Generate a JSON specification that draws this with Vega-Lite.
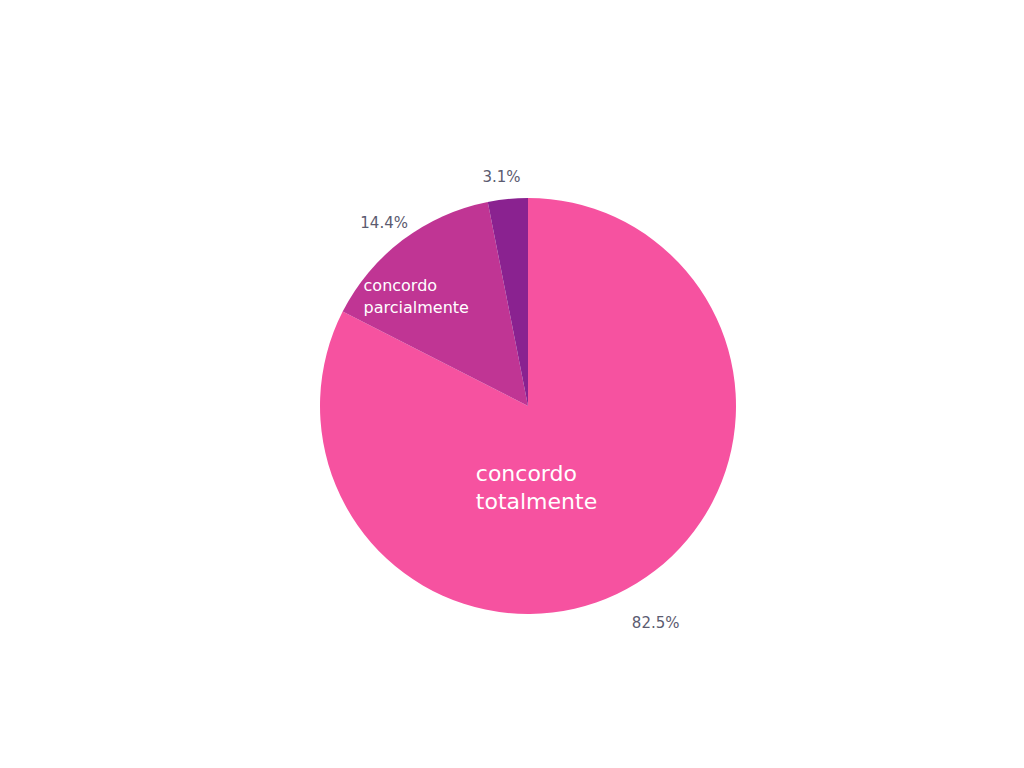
{
  "$schema": "https://vega.github.io/schema/vega-lite/v6.json",
  "width": 992,
  "height": 724,
  "autosize": {"type": "none"},
  "padding": {"left": 32, "top": 44, "right": 0, "bottom": 0},
  "background": "white",
  "config": {"view": {"stroke": null}, "font": "DejaVu Sans"},
  "data": {
    "values": [
      {"categoria": "concordo totalmente", "valor": 82.5, "pct": "82.5%", "ord": 1},
      {"categoria": "concordo parcialmente", "valor": 14.4, "pct": "14.4%", "ord": 2},
      {"categoria": "não concordo nem discordo", "valor": 3.1, "pct": "3.1%", "ord": 3}
    ]
  },
  "encoding": {
    "theta": {"field": "valor", "type": "quantitative", "stack": true},
    "order": {"field": "ord", "type": "quantitative", "sort": "ascending"}
  },
  "layer": [
    {
      "mark": {"type": "arc", "outerRadius": 208},
      "encoding": {
        "color": {
          "field": "categoria",
          "type": "nominal",
          "scale": {
            "domain": ["concordo totalmente", "concordo parcialmente", "não concordo nem discordo"],
            "range": ["#F652A0", "#C03594", "#8A2290"]
          },
          "legend": null
        }
      }
    },
    {
      "mark": {"type": "text", "radius": 232, "fontSize": 15, "fill": "#5B5B70", "baseline": "middle", "dx": -4, "dy": 2},
      "encoding": {
        "text": {"field": "pct"},
        "opacity": {"condition": {"test": "datum.ord == 1", "value": 0}, "value": 1}
      }
    },
    {
      "mark": {"type": "text", "radius": 252, "fontSize": 15, "fill": "#5B5B70", "baseline": "middle", "dx": -4, "dy": 2},
      "encoding": {
        "text": {"field": "pct"},
        "opacity": {"condition": {"test": "datum.ord == 1", "value": 1}, "value": 0}
      }
    },
    {
      "mark": {"type": "text", "radius": 80, "fontSize": 22, "fill": "white", "align": "left", "baseline": "middle", "lineBreak": " ", "lineHeight": 28, "dx": -94, "dy": 0},
      "encoding": {
        "text": {"field": "categoria"},
        "opacity": {"condition": {"test": "datum.ord == 1", "value": 1}, "value": 0}
      }
    },
    {
      "mark": {"type": "text", "radius": 150, "fontSize": 16, "fill": "white", "align": "left", "baseline": "middle", "lineBreak": " ", "lineHeight": 22, "dx": -74, "dy": 0},
      "encoding": {
        "text": {"field": "categoria"},
        "opacity": {"condition": {"test": "datum.ord == 2", "value": 1}, "value": 0}
      }
    }
  ]
}
